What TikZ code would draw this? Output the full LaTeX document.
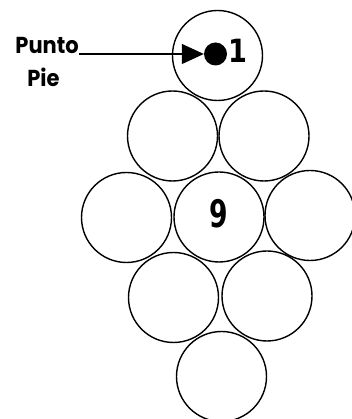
\documentclass[tikz,border=0pt]{standalone}
\usepackage{fontspec}
\setmainfont{DejaVu Sans}
\newfontfamily\lblfont{Poppins}
\usetikzlibrary{arrows.meta}
\begin{document}
\begin{tikzpicture}[x=1pt,y=1pt,
  ball/.style={circle,draw=black,line width=1.4pt,minimum size=90pt,inner sep=0pt},
  lbl/.style={font=\lblfont\bfseries\fontsize{21}{21}\selectfont,inner sep=0pt},
  num/.style={font=\bfseries\fontsize{32}{32}\selectfont,inner sep=0pt}]
\useasboundingbox (0,0) rectangle (351,419);
% balls (y flipped: tikz y = 419 - image y)
\node[ball] (b1) at (217.5,363.5) {};
\node[ball] (b2) at (172.5,283) {};
\node[ball] (b3) at (264,283) {};
\node[ball] (b4) at (126.5,201.5) {};
\node[ball] (b5) at (219,202) {};
\node[ball] (b6) at (310,203.5) {};
\node[ball] (b7) at (173.5,121.5) {};
\node[ball] (b8) at (267,123) {};
\node[ball] (b9) at (221.5,42.5) {};
% dot and number on ball 1
\node[circle,fill=black,minimum size=23pt,inner sep=0pt] (dot) at (215.5,365) {};
\node[num,anchor=base west,xscale=0.85] (one) at (228,356) {1};
% nine
\node[num,anchor=base,xscale=0.7,font=\bfseries\fontsize{38}{38}\selectfont] (nine) at (219,191) {9};
% label
\node[lbl,anchor=base east,yscale=1.1] (punto) at (79,365) {Punto};
\node[lbl,anchor=base,yscale=1.1] (pie) at (43.5,332) {Pie};
\draw[line width=1.2pt,-{Triangle[length=22pt,width=20pt]}] (punto.base east) -- (dot.west);
\end{tikzpicture}
\end{document}
